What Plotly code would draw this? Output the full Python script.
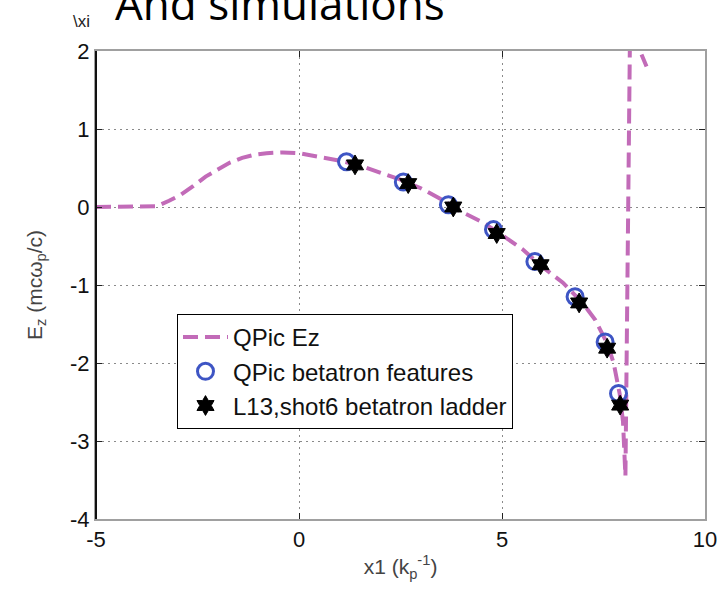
import plotly.graph_objects as go

# QPic longitudinal wakefield Ez along x1
ez_x = [-5.0, -4.0, -3.5, -3.2, -2.9, -2.6, -2.3, -2.0, -1.7, -1.4, -1.1, -0.8,
        -0.4, 0.0, 0.5, 1.0, 1.5, 2.0, 2.5, 3.0, 3.5, 4.0, 4.5, 5.0, 5.5, 6.0,
        6.5, 7.0, 7.3, 7.6, 7.75, 7.9, 7.98, 8.04, 8.07, 8.1, 8.13, 8.16, 8.22,
        8.3, 8.4, 8.48, 8.56]
ez_y = [0.0, 0.0, 0.01, 0.08, 0.16, 0.27, 0.39, 0.48, 0.57, 0.63, 0.67, 0.69,
        0.70, 0.69, 0.645, 0.595, 0.53, 0.44, 0.35, 0.24, 0.10, -0.06, -0.19,
        -0.36, -0.54, -0.77, -0.97, -1.24, -1.45, -1.76, -2.0, -2.4, -2.75,
        -3.45, -2.0, 0.0, 1.5, 2.6, 3.2, 2.6, 2.0, 1.9, 1.8]

# QPic betatron features
feat_x = [1.17, 2.57, 3.68, 4.79, 5.81, 6.80, 7.54, 7.87]
feat_y = [0.58, 0.32, 0.03, -0.29, -0.70, -1.15, -1.73, -2.39]

# L13, shot 6 betatron ladder
ladder_x = [1.38, 2.69, 3.80, 4.87, 5.95, 6.90, 7.59, 7.91]
ladder_y = [0.54, 0.30, 0.00, -0.34, -0.74, -1.23, -1.81, -2.54]

x_ticks = [-5, 0, 5, 10]
y_ticks = [-4, -3, -2, -1, 0, 1, 2]

fig = go.Figure()
fig.add_trace(go.Scatter(
    x=ez_x, y=ez_y, mode="lines", name="QPic Ez",
    line=dict(color="#C26BB8", width=4, dash="15px,7px"),
))
fig.add_trace(go.Scatter(
    x=feat_x, y=feat_y, mode="markers", name="QPic betatron features",
    marker=dict(symbol="circle-open", size=16, color="#3E55C4",
                line=dict(width=3, color="#3E55C4")),
))
fig.add_trace(go.Scatter(
    x=ladder_x, y=ladder_y, mode="markers", name="L13,shot6 betatron ladder",
    marker=dict(symbol="hexagram", size=15, color="#000000",
                line=dict(width=1, color="#000000")),
))

tick_font = dict(family="Liberation Sans, Arial, sans-serif", size=22, color="#111111")
title_font = dict(family="Liberation Sans, Arial, sans-serif", size=21, color="#444444")

grid_style = dict(showgrid=True, gridcolor="#8A8A8A", gridwidth=1.3, griddash="2px,4px")

fig.update_xaxes(
    range=[-5, 10], tickvals=x_ticks, ticktext=[str(v) for v in x_ticks],
    zeroline=False, showline=True, linecolor="#A0A0A0", linewidth=2, mirror="ticks",
    ticks="inside", ticklen=6, tickcolor="#222222", tickfont=tick_font,
    automargin=False,
    title=dict(text="x1 (k<sub>p</sub><sup>-1</sup>)", font=title_font, standoff=8),
    **grid_style,
)
fig.update_yaxes(
    range=[-4, 2], tickvals=y_ticks, ticktext=[str(v) for v in y_ticks],
    zeroline=False, showline=True, linecolor="#A0A0A0", linewidth=2, mirror="ticks",
    ticks="inside", ticklen=6, tickcolor="#222222", tickfont=tick_font,
    automargin=False,
    title=dict(text="E<sub>z</sub> (mcω<sub>p</sub>/c)", font=title_font, standoff=22),
    **grid_style,
)

fig.update_layout(
    width=719, height=590,
    margin=dict(l=96, r=14, t=51, b=71, autoexpand=False),
    paper_bgcolor="white", plot_bgcolor="white",
    showlegend=True,
    legend=dict(
        x=0.133, y=0.438, xanchor="left", yanchor="top",
        bgcolor="white", bordercolor="#000000", borderwidth=1,
        font=dict(family="Liberation Sans, Arial, sans-serif", size=24, color="#111111"),
        itemwidth=45,
    ),
    shapes=[dict(type="line", xref="paper", yref="paper", x0=0, x1=0, y0=0, y1=1,
                 line=dict(color="#111111", width=2))],
    annotations=[
        dict(text="And simulations", xref="paper", yref="paper",
             x=0.0279, y=1.1036, xanchor="left", yanchor="middle", showarrow=False,
             font=dict(family="Open Sans, sans-serif", size=44, color="#000000")),
        dict(text="\\xi", xref="paper", yref="paper",
             x=-0.024, y=1.062, xanchor="center", yanchor="middle", showarrow=False,
             font=dict(family="Liberation Sans, Arial, sans-serif", size=17, color="#222222")),
    ],
)

fig.write_html("out.html")
